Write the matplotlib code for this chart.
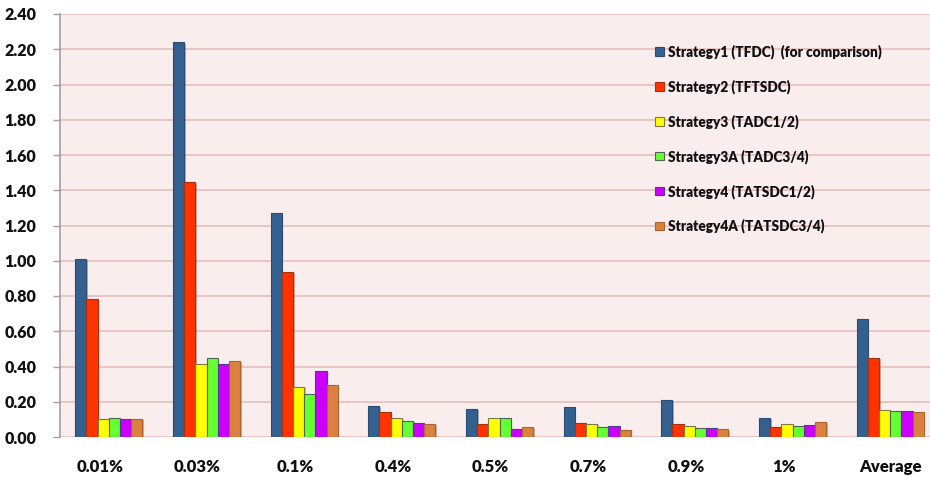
import matplotlib
matplotlib.use("Agg")
import matplotlib.pyplot as plt
import matplotlib.patheffects as pe
import matplotlib.transforms as mtransforms
from matplotlib.patches import Patch
import numpy as np

plt.rcParams['font.family'] = ['Lato', 'DejaVu Sans']
plt.rcParams['font.weight'] = 'heavy'

categories = ["0.01%", "0.03%", "0.1%", "0.4%", "0.5%", "0.7%", "0.9%", "1%", "Average"]

series_names = [
    "Strategy1 (TFDC)  (for comparison)",
    "Strategy2 (TFTSDC)",
    "Strategy3 (TADC1/2)",
    "Strategy3A (TADC3/4)",
    "Strategy4 (TATSDC1/2)",
    "Strategy4A (TATSDC3/4)",
]

strategy1 = [1.01, 2.24, 1.27, 0.178, 0.159, 0.170, 0.210, 0.110, 0.668]
strategy2 = [0.785, 1.447, 0.936, 0.142, 0.076, 0.081, 0.076, 0.055, 0.450]
strategy3 = [0.102, 0.414, 0.284, 0.108, 0.108, 0.076, 0.064, 0.076, 0.155]
strategy3a = [0.108, 0.448, 0.244, 0.091, 0.108, 0.057, 0.053, 0.064, 0.148]
strategy4 = [0.102, 0.414, 0.374, 0.081, 0.045, 0.064, 0.053, 0.070, 0.148]
strategy4a = [0.102, 0.433, 0.295, 0.076, 0.057, 0.042, 0.043, 0.085, 0.142]

series = [strategy1, strategy2, strategy3, strategy3a, strategy4, strategy4a]

face_colors = ['#34608F', '#FF3300', '#FFFF00', '#66FF33', '#CC00FF', '#D9823F']
edge_colors = ['#2A4C72', '#A8300F', '#7C7C3A', '#4B6650', '#503C8C', '#A9652F']

yticks = [0.0, 0.2, 0.4, 0.6, 0.8, 1.0, 1.2, 1.4, 1.6, 1.8, 2.0, 2.2, 2.4]

W, H = 930, 479
fig = plt.figure(figsize=(W / 100, H / 100), dpi=100)
fig.patch.set_facecolor('white')

left, right, top, bottom = 60, 939, 14, 437
ax = fig.add_axes([left / W, 1 - bottom / H, (right - left) / W, (bottom - top) / H])
ax.set_facecolor('#F9EDED')

x = np.arange(len(categories))
bw = 0.1146
n = len(series)
for i, vals in enumerate(series):
    ax.bar(x + (i - (n - 1) / 2) * bw, vals, width=bw,
           color=face_colors[i], edgecolor=edge_colors[i], linewidth=0.8,
           zorder=3,
           path_effects=[pe.SimplePatchShadow(offset=(1.2, -1.0), alpha=0.3),
                         pe.Normal()])

ax.set_xlim(-0.5, len(categories) - 0.5)
ax.set_ylim(0, 2.4)
ax.set_yticks(yticks)
ax.set_yticklabels([f"{v:.2f}" for v in yticks])
ax.yaxis.grid(True, color='#E6BDBC', linewidth=1.2, zorder=0)
ax.set_axisbelow(True)

for s in ['top', 'right', 'bottom']:
    ax.spines[s].set_visible(False)
ax.spines['left'].set_color('#A0A0A0')
ax.spines['left'].set_linewidth(1.2)

ax.tick_params(axis='y', direction='out', length=5, width=1, color='#A0A0A0',
               pad=12, labelsize=11.5, labelcolor='#111111')
ax.set_xticks(x)
ax.set_xticklabels(categories)
ax.tick_params(axis='x', length=0, pad=16, labelsize=12, labelcolor='#111111')
for k, lab in enumerate(ax.get_xticklabels()):
    dx = -9 if k < len(categories) - 1 else 0
    lab.set_transform(lab.get_transform() +
                      mtransforms.ScaledTranslation(dx / 100, 0, fig.dpi_scale_trans))

handles = [Patch(facecolor=face_colors[i], edgecolor=edge_colors[i], linewidth=0.8)
           for i in range(n)]
leg = ax.legend(handles, series_names, loc='upper left',
                bbox_to_anchor=(650 / W, 1 - 38.5 / H), bbox_transform=fig.transFigure,
                frameon=False, fontsize=9.8, handlelength=0.6, handleheight=0.6,
                handletextpad=0.35, labelspacing=1.50, borderaxespad=0)
for t in leg.get_texts():
    t.set_color('#111111')

fig.savefig('out.png', dpi=100)
